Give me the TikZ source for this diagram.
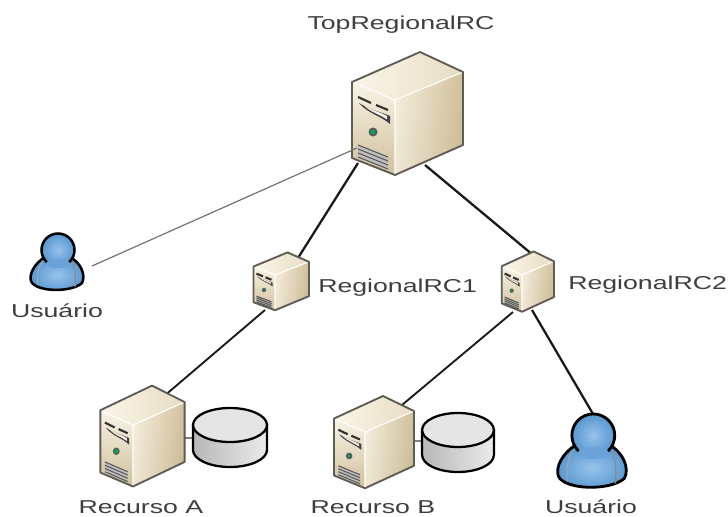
\documentclass[tikz,border=0pt]{standalone}
\usepackage{fontspec}
\setmainfont{Liberation Sans}
\definecolor{ink}{RGB}{62,62,62}
\definecolor{tanL}{RGB}{250,244,230}
\definecolor{tanM}{RGB}{232,221,195}
\definecolor{tanD}{RGB}{200,182,142}
\definecolor{edge}{RGB}{95,92,85}
\definecolor{blueL}{RGB}{150,195,235}
\definecolor{blueD}{RGB}{88,150,208}
\tikzset{
  lbl/.style={font=\fontsize{14}{16}\selectfont,text=ink,inner sep=0pt},
  link/.style={line width=1.7pt,black!90},
  thin link/.style={line width=.9pt,black!55},
  stub link/.style={line width=1.2pt,black!50},
  srvedge/.style={draw=edge,line width=1.4pt,line join=round},
}
\newcommand{\wide}[1]{\scalebox{1.43}[1]{#1}}
\newcommand{\srv}[4]{%
\begin{scope}[shift={(#1,#2)},xscale=#3,yscale=#4]
  \shade[top color=tanM!70!tanL,bottom color=tanD!70!tanM] (0,0)--(68,-28)--(68,45)--(0,75)--cycle;
  \shade[left color=tanL,right color=tanD,opacity=.75] (0,0)--(68,-28)--(68,45)--(0,75)--cycle;
  \shade[top color=tanL,bottom color=tanD!75!tanM] (-43,-18)--(0,0)--(0,75)--(-43,58)--cycle;
  \shade[left color=tanL!85!white,right color=tanM] (-43,-18)--(25,-48)--(68,-28)--(0,0)--cycle;
  \draw[white,line width=.8pt] (0,0)--(0,75) (0,0)--(68,-28) (0,0)--(-43,-18);
  \draw[srvedge] (-43,-18)--(25,-48)--(68,-28)--(68,45)--(0,75)--(-43,58)--cycle;
  \draw[black!80,line width=1.6pt] (-37,-3)--(-24,3) (-19,5)--(-7,10);
  \fill[black!75] (-36,3) .. controls (-25,10) and (-14,12) .. (-5,16) -- (-5,24) .. controls (-14,16) and (-28,13) .. (-36,3) -- cycle;
  \fill[tanL] (-31,5.5) .. controls (-24,10) and (-15,12) .. (-8,16) -- (-8,19.5) .. controls (-15,14.5) and (-25,12) .. (-31,5.5) -- cycle;
  \fill[black!65] (-22,32) circle (4.5);
  \fill[teal!70!green] (-22,32) circle (2.5);
  \fill[black!25] (-37,45)--(-7,57)--(-7,69)--(-37,57)--cycle;
  \foreach \d in {0,4,8,12}{\draw[black!65,line width=.8pt] (-37,45+\d)--(-7,57+\d);}
\end{scope}}
\newcommand{\cyl}[4]{%
\begin{scope}[shift={(#1,#2)},xscale=#3,yscale=#4]
  \shade[draw=black,line width=1.7pt,left color=black!28,right color=black!8]
    (-37,-13) -- (-37,12) arc[start angle=180,end angle=0,x radius=37,y radius=17] -- (37,-13) -- cycle;
  \fill[white!90!black] (0,-13) ellipse[x radius=37,y radius=17];
  \draw[black,line width=1.7pt] (0,-13) ellipse[x radius=37,y radius=17];
\end{scope}}
\newcommand{\usr}[4]{%
\begin{scope}[shift={(#1,#2)},scale=#3]
  \draw[black,line width=#4,inner color=blueL,outer color=blueD,line join=round]
    (-12,-15) .. controls (-23,-8) and (-28,2) .. (-26,9) .. controls (-22,20) and (14,21) .. (25,11)
    .. controls (29,3) and (24,-9) .. (13,-15) -- cycle;
  \draw[black!45,line width=1pt] (14,-12) .. controls (18,-6) and (19,4) .. (18,15);
  \draw[black!35,line width=.8pt] (-14,-11) .. controls (-19,-6) and (-20,4) .. (-19,13);
  \draw[black,line width=#4,inner color=blueL,outer color=blueD] (1,-22) ellipse[x radius=16.5,y radius=16.5];
  \fill[blueD!70!blueL] (1,-8.5) ellipse[x radius=12,y radius=4.5];
\end{scope}}
\begin{document}
\begin{tikzpicture}[x=.75pt,y=-.75pt]
\useasboundingbox (0,0) rectangle (728,517);
\coordinate (topA) at (358,163);
\coordinate (topB) at (425,165);
\coordinate (topC) at (357,148);
\coordinate (roneIn) at (298,258);
\coordinate (roneOut) at (265,310);
\coordinate (rtwoIn) at (533,255);
\coordinate (rtwoOutA) at (513,312);
\coordinate (rtwoOutB) at (532,310);
\coordinate (ra) at (163,397);
\coordinate (rb) at (402,405);
\coordinate (sa) at (183,438);
\coordinate (ca) at (194,438);
\coordinate (sb) at (412,441);
\coordinate (cb) at (423,441);
\coordinate (ul) at (92,266);
\coordinate (ur) at (593,414);
% connectors under the machines
\draw[link] (topA) -- (roneIn);
\draw[link] (topB) -- (rtwoIn);
\draw[link,line width=1.4pt] (roneOut) -- (ra);
\draw[link,line width=1.4pt] (rtwoOutA) -- (rb);
\draw[link] (rtwoOutB) -- (ur);
\draw[stub link] (sa) -- (ca);
\draw[stub link] (sb) -- (cb);
% machines
\srv{395}{100}{1}{1}
\srv{275}{275}{.50}{.47}
\srv{522}{275}{.47}{.49}
\srv{133}{425}{.76}{.82}
\srv{365}{432}{.72}{.75}
\cyl{230}{438}{1}{1}
\cyl{458}{443}{.97}{1}
\usr{57}{272}{1}{1.9pt}
\usr{592}{464}{1.3}{2.1pt}
\draw[thin link] (ul) -- (topC);
% labels
\node[lbl] (t0) at (401,25) {\wide{TopRegionalRC}};
\node[lbl,anchor=west] (t1) at (318,288) {\wide{RegionalRC1}};
\node[lbl,anchor=west] (t2) at (568,285) {\wide{RegionalRC2}};
\node[lbl] (t3) at (57,311) {\wide{Usuário}};
\node[lbl] (t4) at (141,507) {\wide{Recurso A}};
\node[lbl] (t5) at (373,507) {\wide{Recurso B}};
\node[lbl] (t6) at (591,507) {\wide{Usuário}};
\end{tikzpicture}
\end{document}
